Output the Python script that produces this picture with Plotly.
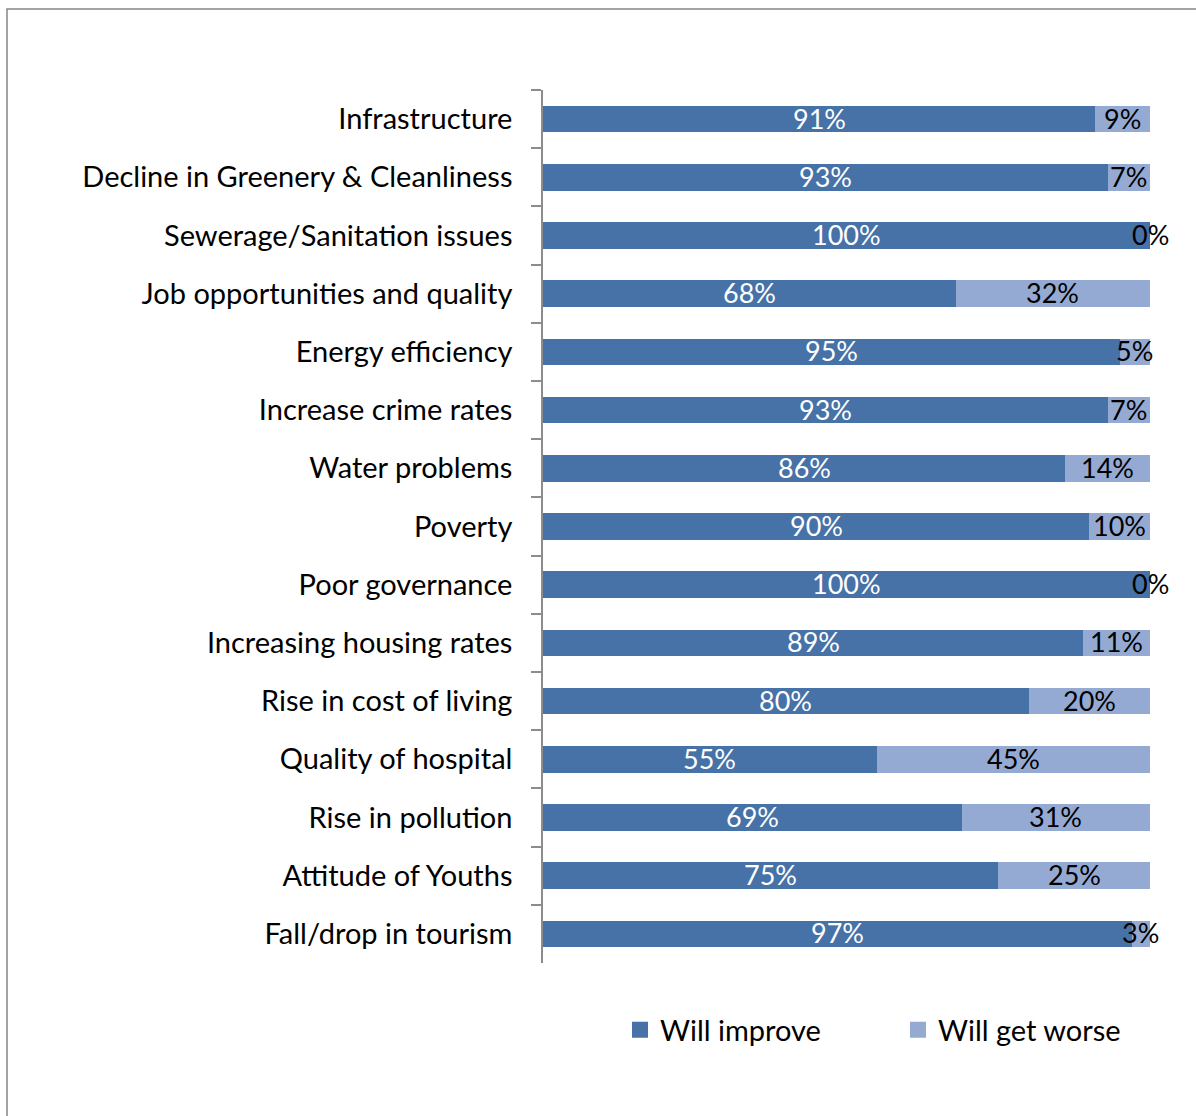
import plotly.graph_objects as go

# Survey categories (top to bottom) and share of responses per outlook
categories = [
    "Infrastructure",
    "Decline in Greenery & Cleanliness",
    "Sewerage/Sanitation issues",
    "Job opportunities and quality",
    "Energy efficiency",
    "Increase crime rates",
    "Water problems",
    "Poverty",
    "Poor governance",
    "Increasing housing rates",
    "Rise in cost of living",
    "Quality of hospital",
    "Rise in pollution",
    "Attitude of Youths",
    "Fall/drop in tourism",
]
will_improve = [91, 93, 100, 68, 95, 93, 86, 90, 100, 89, 80, 55, 69, 75, 97]
will_get_worse = [9, 7, 0, 32, 5, 7, 14, 10, 0, 11, 20, 45, 31, 25, 3]
series_names = ["Will improve", "Will get worse"]

DARK = "#4672A8"
LIGHT = "#95AAD3"
FONT = "Lato"
FS = 29

fig = go.Figure()

fig.add_trace(go.Bar(
    y=categories, x=will_improve, orientation="h",
    marker=dict(color=DARK, line=dict(width=0)),
    showlegend=False, hoverinfo="skip",
))
fig.add_trace(go.Bar(
    y=categories, x=will_get_worse, orientation="h",
    marker=dict(color=LIGHT, line=dict(width=0)),
    showlegend=False, hoverinfo="skip",
))

# Value labels centred on each segment
annotations = []
for cat, a, b in zip(categories, will_improve, will_get_worse):
    annotations.append(dict(
        x=a / 2, y=cat, xref="x", yref="y", text=f"{a}%", showarrow=False,
        xanchor="center", yanchor="middle", yshift=1,
        font=dict(family=FONT, size=FS - 2, color="white"),
    ))
    annotations.append(dict(
        x=a + b / 2, y=cat, xref="x", yref="y", text=f"{b}%", showarrow=False,
        xanchor="center", yanchor="middle", yshift=1,
        font=dict(family=FONT, size=FS - 2, color="black"),
    ))

# Legend entries with square swatches, one legend box per series
for name, col, lg in zip(series_names, [DARK, LIGHT], ["legend", "legend2"]):
    fig.add_trace(go.Scatter(
        x=[None], y=[categories[0]], mode="markers", name=name,
        marker=dict(symbol="square", size=17, color=col), legend=lg,
    ))

legend_style = dict(
    orientation="h", xref="container", xanchor="left",
    yref="container", y=(1116 - 1030) / 1116, yanchor="middle",
    font=dict(family=FONT, size=FS, color="black"),
    bgcolor="rgba(0,0,0,0)", borderwidth=0,
)

fig.update_layout(
    width=1196, height=1116,
    margin=dict(l=543, r=46, t=90, b=153),
    paper_bgcolor="white", plot_bgcolor="white",
    barmode="stack", bargap=0.54,
    font=dict(family=FONT, size=FS, color="black"),
    xaxis=dict(range=[0, 100], visible=False, fixedrange=True),
    yaxis=dict(
        type="category", range=[len(categories) - 0.5, -0.5],
        categoryorder="array", categoryarray=categories,
        showline=True, linecolor="#8C8C8C", linewidth=1.5,
        ticks="outside", ticklen=10, tickcolor="#8C8C8C", tickwidth=1.5,
        tickson="boundaries", ticklabelstandoff=23,
        showgrid=False, zeroline=False,
        tickfont=dict(family=FONT, size=FS, color="black"),
    ),
    legend=dict(x=620 / 1196, **legend_style),
    legend2=dict(x=898 / 1196, **legend_style),
    annotations=annotations,
    shapes=[dict(
        type="rect", xref="paper", yref="paper",
        x0=(7 - 543) / 607, x1=(1210 - 543) / 607,
        y0=(963 - 1130) / 873, y1=(963 - 9) / 873,
        line=dict(color="#868686", width=1.5), fillcolor="rgba(0,0,0,0)",
        layer="below",
    )],
)

fig.write_html("out.html")
